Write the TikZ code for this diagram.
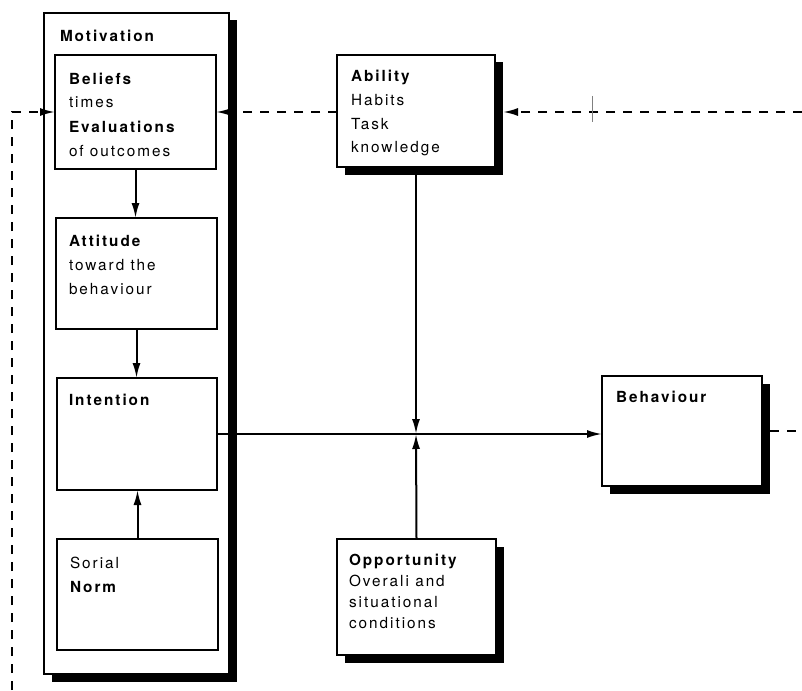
\documentclass[tikz,border=0pt]{standalone}
\usepackage{fontspec}
\setmainfont{TeX Gyre Heros}[LetterSpace=13]
\usetikzlibrary{arrows.meta,shadows,calc}
\begin{document}
\begin{tikzpicture}[x=1pt,y=-1pt,
  box/.style={draw, line width=1.9pt, fill=white, anchor=north west, inner sep=0pt, outer sep=0pt},
  sbox/.style={box, general shadow={fill=black, shadow xshift=7.5pt, shadow yshift=-7.5pt}},
  txt/.style={anchor=base west, inner sep=0pt, outer sep=0pt, align=left, font=\fontsize{15.3pt}{24pt}\selectfont},
  conn/.style={line width=2pt, -{Latex[length=15pt,width=8pt]}},
  dconn/.style={line width=2pt, dash pattern=on 9pt off 8pt, -{Latex[length=15pt,width=8pt]}},
  dline/.style={line width=2pt, dash pattern=on 9pt off 8pt}]
\useasboundingbox (0,0) rectangle (802,690);
% outer motivation box
\node[sbox, minimum width=185pt, minimum height=661pt] (mot) at (44,13) {};
\node[txt] (motT) at (60,42) {\textbf{Motivation}};
% inner boxes (text anchored at the baseline of its last line)
\node[box, minimum width=161pt, minimum height=114pt] (bel) at (55,55) {};
\node[txt] (belT) at (69,156) {\textbf{Beliefs}\\times\\\textbf{Evaluations}\\of outcomes};
\node[box, minimum width=161pt, minimum height=111pt] (att) at (56,218) {};
\node[txt] (attT) at (69,294) {\textbf{Attitude}\\toward the\\behaviour};
\node[box, minimum width=160pt, minimum height=112pt] (int) at (57,378) {};
\node[txt] (intT) at (69,405) {\textbf{Intention}};
\node[box, minimum width=161pt, minimum height=111pt] (nor) at (57,539) {};
\node[txt] (norT) at (70,592) {Sorial\\\textbf{Norm}};
% other boxes
\node[sbox, minimum width=158pt, minimum height=112pt] (abi) at (337,55) {};
\node[txt, font=\fontsize{15.3pt}{23.5pt}\selectfont] (abiT) at (351,152.5) {\textbf{Ability}\\Habits\\Task\\knowledge};
\node[sbox, minimum width=159pt, minimum height=116pt] (opp) at (337,539) {};
\node[txt, font=\fontsize{15.3pt}{21pt}\selectfont] (oppT) at (349,628) {\textbf{Opportunity}\\Overali and\\situational\\conditions};
\node[sbox, minimum width=160pt, minimum height=110pt] (beh) at (602,376) {};
\node[txt] (behT) at (616,402) {\textbf{Behaviour}};
% coordinates
\coordinate (mid) at (abi.south |- int.east);
\coordinate (rightend) at (802,112);
\coordinate (botleft) at (12,690);
\coordinate (behend) at (802,431);
\coordinate (tickA) at (592,96);
\coordinate (tickB) at (592,122);
% solid connectors
\draw[conn] (bel.south) -- (bel.south |- att.north);
\draw[conn] (att.south) -- (att.south |- int.north);
\draw[conn] (nor.north) -- (nor.north |- int.south);
\draw[conn] (int.east) -- (int.east -| beh.west);
\draw[conn] ([yshift=-7.5pt]abi.south) -- (mid);
\draw[conn] (opp.north) -- (mid);
% dashed connectors
\draw[dconn] (rightend) -- ([xshift=8pt]rightend -| abi.east);
\draw[dconn] (abi.west |- rightend) -- (bel.east);
\draw[dconn] (botleft) |- (bel.west);
\draw[dline] ([xshift=8pt]beh.east |- behend) -- (behend);
\draw[gray, line width=1pt] (tickA) -- (tickB);
\end{tikzpicture}
\end{document}
